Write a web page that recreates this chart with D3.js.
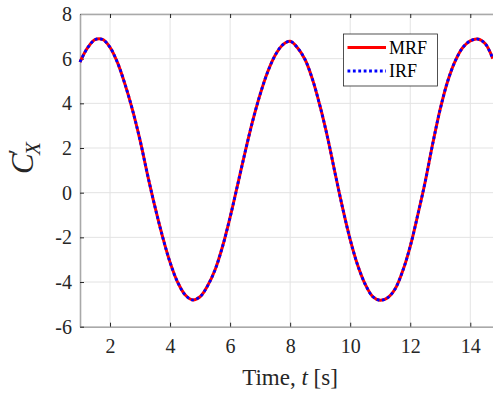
<!DOCTYPE html>
<html><head><meta charset="utf-8">
<script src="https://cdn.jsdelivr.net/npm/d3@7"></script>
<style>
html,body{margin:0;padding:0;background:#fff;}
svg{display:block;}
svg text{font-family:"Liberation Serif","Times New Roman",serif !important;}
</style></head>
<body>
<svg id="c" width="493" height="394"></svg>
<script>
const timeValues = [1.00,1.25,1.50,1.75,2.00,2.25,2.50,2.75,3.00,3.25,3.50,3.75,4.00,4.25,4.50,4.75,
  5.00,5.25,5.50,5.75,6.00,6.25,6.50,6.75,7.00,7.25,7.50,7.75,8.00,8.25,8.50,8.75,9.00,9.25,9.50,9.75,
  10.00,10.25,10.50,10.75,11.00,11.25,11.50,11.75,12.00,12.25,12.50,12.75,13.00,13.25,13.50,13.75,14.00,14.25,14.50,14.75];
const mrfValues = [5.85,6.48,6.85,6.86,6.51,5.82,4.85,3.70,2.35,0.80,-0.65,-1.97,-3.12,-4.00,-4.57,-4.80,
  -4.66,-4.17,-3.45,-2.40,-1.10,0.35,1.82,3.20,4.40,5.40,6.15,6.62,6.78,6.48,5.95,5.05,3.85,2.45,0.85,-0.70,
  -2.10,-3.25,-4.10,-4.65,-4.82,-4.70,-4.30,-3.50,-2.40,-1.00,0.50,2.20,3.75,5.00,5.90,6.50,6.80,6.88,6.67,6.00];
const irfValues = mrfValues.slice();
const xTicks = [2,4,6,8,10,12,14];
const yTicks = [-6,-4,-2,0,2,4,6,8];
const seriesNames = ["MRF","IRF"];

const svg = d3.select("#c");
const L = 80, T = 14, B = 326.7, R = 494.3;
const x = d3.scaleLinear().domain([1, 14.8]).range([L, R]);
const y = d3.scaleLinear().domain([-6, 8]).range([B, T]);

// grid
const g = svg.append("g");
g.selectAll(".gx").data(xTicks).enter().append("line")
  .attr("x1", d => x(d)).attr("x2", d => x(d)).attr("y1", T).attr("y2", B)
  .attr("stroke", "#e3e3e3").attr("stroke-width", 1);
g.selectAll(".gy").data(yTicks).enter().append("line")
  .attr("x1", L).attr("x2", R).attr("y1", d => y(d)).attr("y2", d => y(d))
  .attr("stroke", "#e3e3e3").attr("stroke-width", 1);

// axes
const xAxis = d3.axisBottom(x).tickValues(xTicks).tickSizeInner(-4).tickSizeOuter(0).tickPadding(12);
const yAxis = d3.axisLeft(y).tickValues(yTicks).tickSizeInner(-4).tickSizeOuter(0).tickPadding(8)
  .tickFormat(d => d);
const xa = svg.append("g").attr("transform", `translate(0,${B})`).call(xAxis);
const ya = svg.append("g").attr("transform", `translate(${L},0)`).call(yAxis);
const xt = svg.append("g").attr("transform", `translate(0,${T})`).call(d3.axisTop(x).tickValues(xTicks).tickSizeInner(-4).tickSizeOuter(0).tickFormat(""));
[xa, ya, xt].forEach(a => {
  a.attr("font-family", null).attr("font-size", 20);
  a.select(".domain").attr("stroke", "#a9a9a9").attr("stroke-width", 1.6);
  a.selectAll(".tick line").attr("stroke", "#262626").attr("stroke-width", 1);
  a.selectAll(".tick text").attr("fill", "#262626");
});
xa.selectAll(".tick text").attr("dy", "0.71em");

// lines
const line = d3.line().x((d, i) => x(timeValues[i])).y(d => y(d)).curve(d3.curveCatmullRom);
svg.append("path").datum(mrfValues).attr("d", line).attr("fill", "none")
  .attr("stroke", "#ff0000").attr("stroke-width", 3);
svg.append("path").datum(irfValues).attr("d", line).attr("fill", "none")
  .attr("stroke", "#0000ff").attr("stroke-width", 2.8).attr("stroke-dasharray", "2.8,2.6");

// legend
const lg = svg.append("g");
lg.append("rect").attr("x", 343.5).attr("y", 34).attr("width", 94).attr("height", 52)
  .attr("fill", "#fff").attr("stroke", "#262626").attr("stroke-width", 0.8);
const styles = [{c:"#ff0000", w:3, da:null}, {c:"#0000ff", w:2.8, da:"2.8,2.6"}];
seriesNames.forEach((n, i) => {
  const yy = 47.5 + i * 23.5;
  lg.append("line").attr("x1", 347.5).attr("x2", 386).attr("y1", yy).attr("y2", yy)
    .attr("stroke", styles[i].c).attr("stroke-width", styles[i].w)
    .attr("stroke-dasharray", styles[i].da);
  lg.append("text").attr("x", 389).attr("y", yy + 6).attr("font-size", 18)
    .attr("fill", "#000").text(n);
});

// labels
svg.append("text").attr("x", 290).attr("y", 385).attr("text-anchor", "middle")
  .attr("font-size", 23).attr("fill", "#262626")
  .html('Time, <tspan font-style="italic">t</tspan> [s]');
const yl = svg.append("text").attr("transform", "translate(33,158) rotate(-90)")
  .attr("text-anchor", "middle").attr("fill", "#262626").attr("font-size", 31);
yl.append("tspan").attr("font-style", "italic").text("C");
yl.append("tspan").attr("font-size", 24).attr("dy", -9).attr("dx", -1).text("′");
yl.append("tspan").attr("font-style", "italic").attr("font-size", 21).attr("dy", 16).attr("dx", -6).text("X");
</script>
</body></html>
